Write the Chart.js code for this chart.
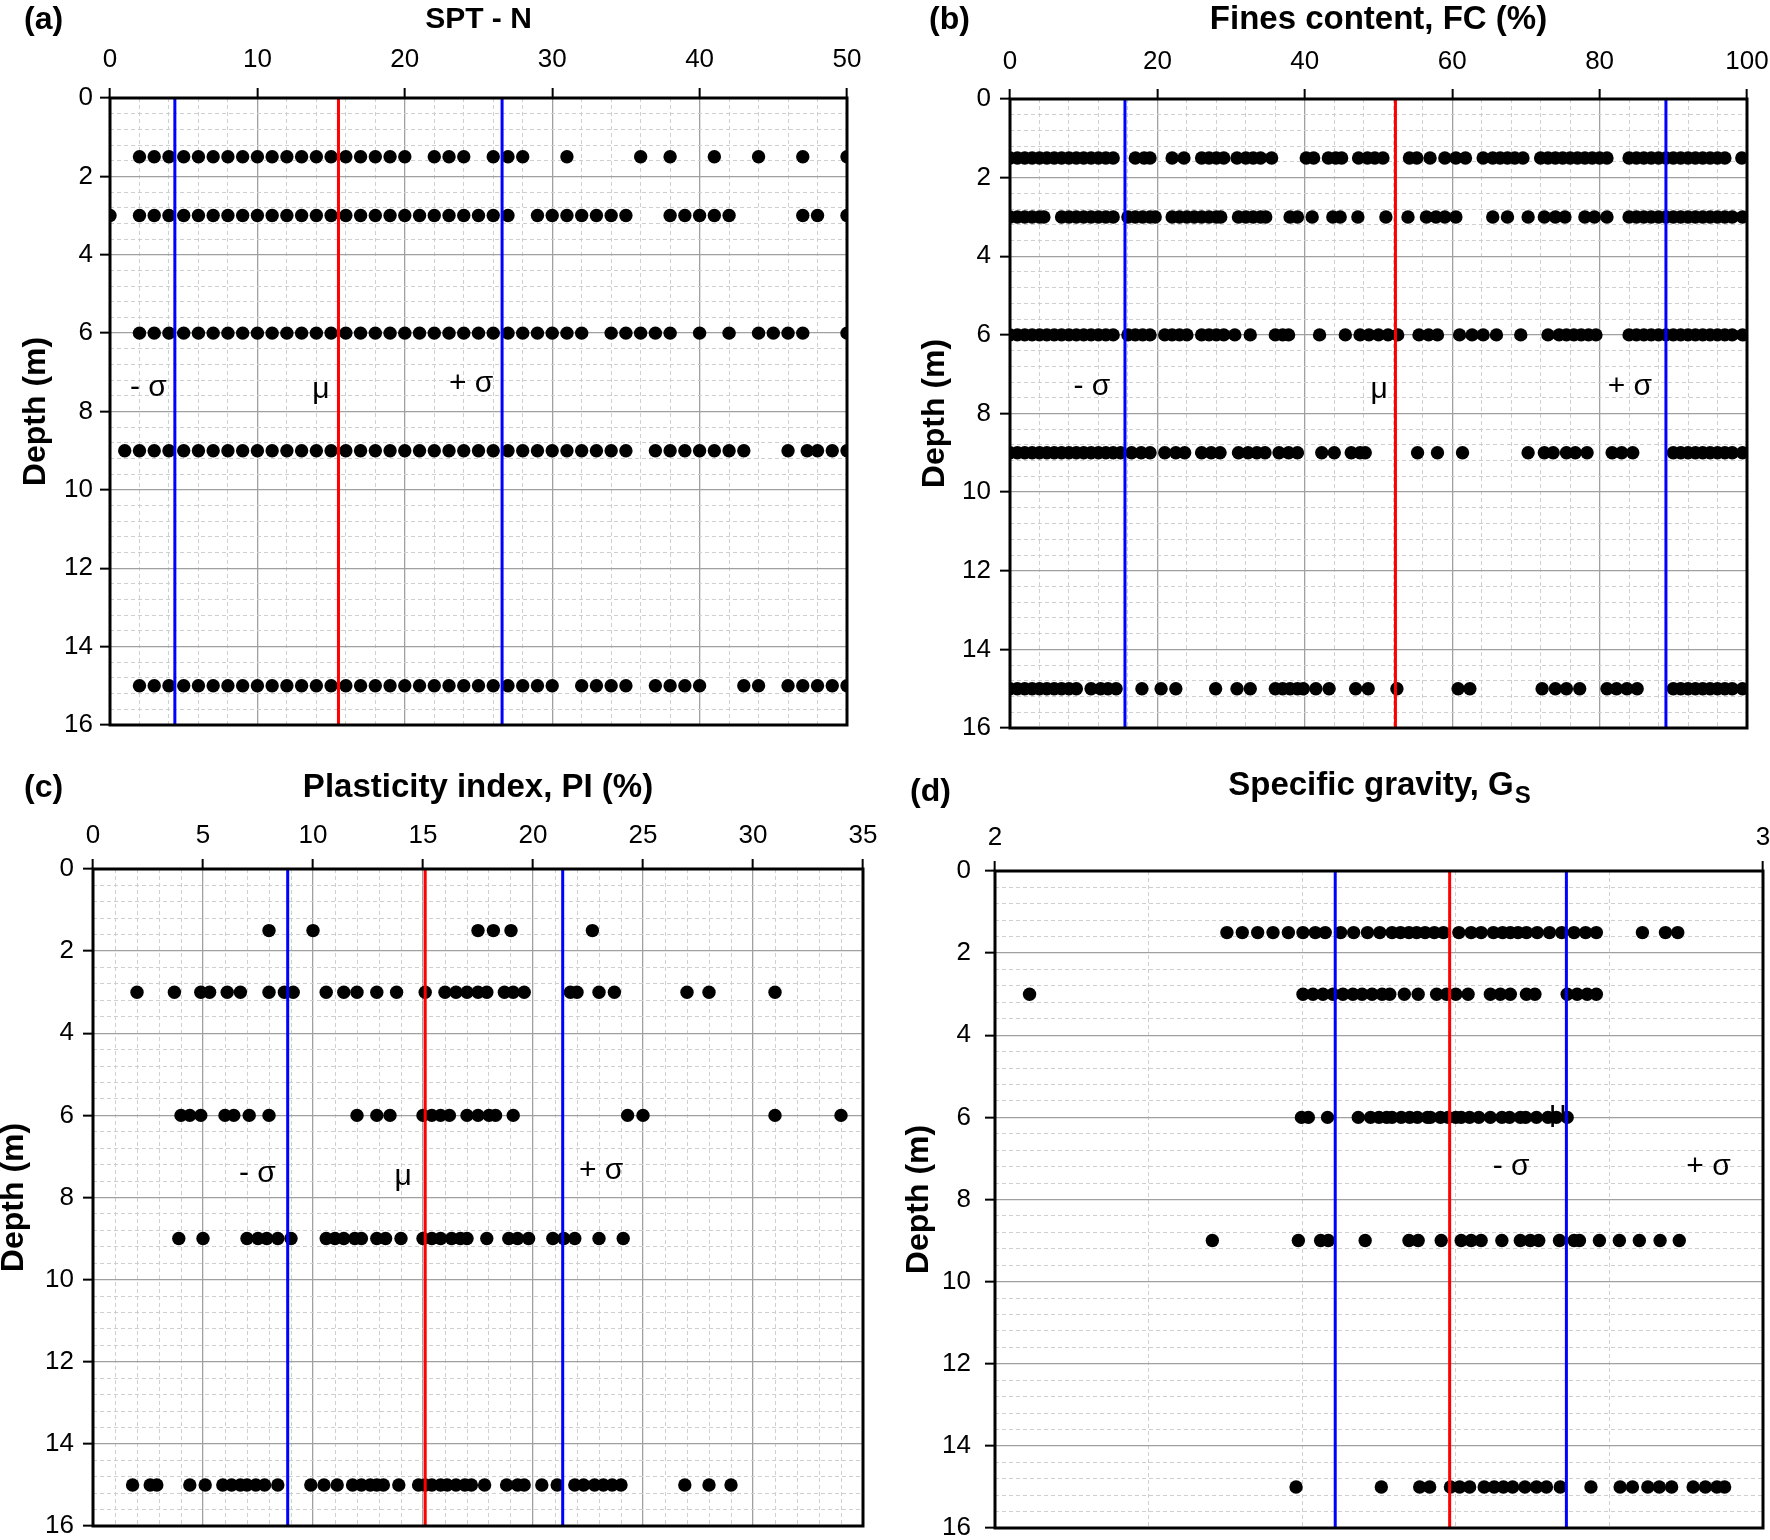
<!DOCTYPE html>
<html>
<head>
<meta charset="utf-8">
<script src="https://cdn.jsdelivr.net/npm/chart.js@4.4.1/dist/chart.umd.min.js"></script>
<style>
  html, body { margin: 0; padding: 0; background: #fff; }
  body { width: 1770px; height: 1540px; position: relative; overflow: hidden; }
  .panel { position: absolute; width: 885px; height: 770px; }
</style>
</head>
<body>
<div class="panel" style="left:0;top:0"><canvas id="chartA" width="885" height="770"></canvas></div>
<div class="panel" style="left:885px;top:0"><canvas id="chartB" width="885" height="770"></canvas></div>
<div class="panel" style="left:0;top:770px"><canvas id="chartC" width="885" height="770"></canvas></div>
<div class="panel" style="left:885px;top:770px"><canvas id="chartD" width="885" height="770"></canvas></div>
<script>
// sampling depths (m), one row of dots per depth
const depths = [1.5, 3, 6, 9, 15]

// (a) SPT - N
const sptAt1_5 = [2, 3, 4, 5, 6, 7, 8, 9, 10, 11, 12, 13, 14, 15, 16, 17, 18, 19, 20, 22, 23, 24, 26, 27, 28, 31, 36, 38, 41, 44, 47, 50]
const sptAt3 = [0, 2, 3, 4, 5, 6, 7, 8, 9, 10, 11, 12, 13, 14, 15, 16, 17, 18, 19, 20, 21, 22, 23, 24, 25, 26, 27, 29, 30, 31, 32, 33, 34, 35, 38, 39, 40, 41, 42, 47, 48, 50]
const sptAt6 = [2, 3, 4, 5, 6, 7, 8, 9, 10, 11, 12, 13, 14, 15, 16, 17, 18, 19, 20, 21, 22, 23, 24, 25, 26, 27, 28, 29, 30, 31, 32, 34, 35, 36, 37, 38, 40, 42, 44, 45, 46, 47, 50]
const sptAt9 = [1, 2, 3, 4, 5, 6, 7, 8, 9, 10, 11, 12, 13, 14, 15, 16, 17, 18, 19, 20, 21, 22, 23, 24, 25, 26, 27, 28, 29, 30, 31, 32, 33, 34, 35, 37, 38, 39, 40, 41, 42, 43, 46, 47.3, 48, 49, 50]
const sptAt15 = [2, 3, 4, 5, 6, 7, 8, 9, 10, 11, 12, 13, 14, 15, 16, 17, 18, 19, 20, 21, 22, 23, 24, 25, 26, 27, 28, 29, 30, 32, 33, 34, 35, 37, 38, 39, 40, 43, 44, 46, 47, 48, 49, 50]
const sptStats = [4.4, 15.5, 26.6] // -sigma, mu, +sigma

// (b) Fines content, FC (%)
const fcAt1_5 = [0, 1, 2, 3, 4, 5, 6, 7, 8, 9, 10, 11, 12, 13, 14, 17, 18.2, 19, 22, 23.6, 26, 27, 28, 29, 30.8, 32, 33, 34, 35.5, 40.2, 41.2, 43.2, 44.2, 45, 47.3, 48.5, 49.5, 50.6, 54.2, 55.2, 57, 59, 60.5, 61.8, 64.2, 65.5, 66.5, 67.5, 68.5, 69.6, 72, 73, 74, 75, 76, 77, 78, 79, 80, 81, 84, 85, 86, 87, 88, 89, 90, 91, 92, 93, 94, 95, 96, 97, 99.3]
const fcAt3 = [0, 1, 2, 3, 4, 4.6, 7, 8, 9, 10, 11, 12, 13, 14, 16, 17, 18, 19, 19.7, 22, 23, 24, 25, 26, 27, 28, 28.6, 31, 32, 33, 34, 34.7, 38, 39, 41, 43.8, 44.8, 47.2, 51, 54, 56.5, 57.8, 59, 60.5, 65.5, 67.5, 70.3, 72.5, 74, 75.3, 78, 79.3, 81, 84, 85, 86, 87, 88, 89, 90, 91, 92, 93, 94, 95, 96, 97, 98, 99.4]
const fcAt6 = [0, 1, 2, 3, 4, 5, 6, 7, 8, 9, 10, 11, 12, 13, 14, 16, 17, 18, 19, 21, 22, 23, 24, 26, 27, 28, 29, 30.5, 32.6, 36, 37, 37.8, 42, 45.5, 47.5, 48.7, 50, 51.3, 52.6, 55.5, 56.8, 58, 61, 62.7, 64.2, 66, 69.3, 73, 74.5, 75.5, 76.5, 77.5, 78.5, 79.5, 84, 85, 86, 87, 88, 89, 90, 91, 92, 93, 94, 95, 96, 97, 98, 99.4]
const fcAt9 = [0, 1, 2, 3, 4, 5, 6, 7, 8, 9, 10, 11, 12, 13, 14, 15, 16.5, 17.8, 19, 21, 22.5, 23.7, 26, 27.3, 28.5, 31, 32.3, 33.5, 34.6, 36.5, 37.8, 39, 42.3, 44, 46.3, 47.5, 48.2, 55.3, 58, 61.4, 70.3, 72.5, 73.7, 75.5, 76.7, 78.3, 81.7, 83, 84.5, 90, 91, 92, 93, 94, 95, 96, 97, 98, 99.4]
const fcAt15 = [0, 1, 2, 3, 4, 5, 6, 7, 8, 9, 11, 12.3, 13.3, 14.4, 17.9, 20.5, 22.5, 27.9, 30.8, 32.6, 36, 37, 38, 39, 39.8, 41.5, 43.3, 46.9, 48.6, 52.5, 60.8, 62.4, 72.2, 74, 75.5, 77.3, 81, 82.3, 83.7, 85.1, 90, 91, 92, 93, 94, 95, 96, 97, 98, 99.4]
const fcStats = [15.6, 52.3, 89.0]

// (c) Plasticity index, PI (%)
const piAt1_5 = [8, 10, 17.5, 18.2, 19, 22.7]
const piAt3 = [2, 3.7, 4.9, 5.3, 6.1, 6.7, 8, 8.7, 9.1, 10.6, 11.4, 12, 12.9, 13.8, 15.1, 16, 16.5, 17, 17.5, 17.9, 18.7, 19.1, 19.6, 21.7, 22, 23, 23.7, 27, 28, 31]
const piAt6 = [4, 4.4, 4.9, 6, 6.4, 7.1, 8, 12, 12.9, 13.5, 15, 15.4, 15.8, 16.2, 17, 17.5, 18, 18.3, 19.1, 24.3, 25, 31, 34]
const piAt9 = [3.9, 5, 7, 7.5, 7.9, 8.4, 9, 10.6, 11, 11.4, 11.9, 12.2, 12.9, 13.3, 14, 15, 15.4, 15.8, 16.3, 16.7, 17, 17.9, 18.9, 19.3, 19.8, 20.9, 21.4, 21.9, 23, 24.1]
const piAt15 = [1.8, 2.6, 2.9, 4.4, 5.1, 5.9, 6.3, 6.7, 7, 7.4, 7.8, 8.4, 9.9, 10.5, 11.1, 11.8, 12.2, 12.6, 12.9, 13.2, 13.9, 14.8, 15.1, 15.4, 15.8, 16.1, 16.5, 16.9, 17.2, 17.8, 18.8, 19.3, 19.6, 20.4, 21.1, 21.9, 22.3, 22.8, 23.2, 23.6, 24, 26.9, 28, 29]
const piStats = [8.85, 15.1, 21.35]

// (d) Specific gravity, Gs
const gsAt1_5 = [2.302, 2.322, 2.342, 2.362, 2.382, 2.401, 2.417, 2.43, 2.45, 2.467, 2.485, 2.501, 2.517, 2.528, 2.539, 2.549, 2.56, 2.572, 2.584, 2.604, 2.62, 2.633, 2.649, 2.661, 2.671, 2.681, 2.692, 2.706, 2.722, 2.738, 2.754, 2.769, 2.783, 2.843, 2.873, 2.889]
const gsAt3 = [2.045, 2.401, 2.414, 2.427, 2.44, 2.453, 2.466, 2.478, 2.491, 2.504, 2.514, 2.533, 2.551, 2.575, 2.588, 2.6, 2.616, 2.645, 2.658, 2.671, 2.692, 2.703, 2.745, 2.758, 2.771, 2.783]
const gsAt6 = [2.399, 2.408, 2.433, 2.473, 2.489, 2.5, 2.51, 2.517, 2.529, 2.54, 2.55, 2.563, 2.567, 2.58, 2.59, 2.6, 2.607, 2.618, 2.63, 2.645, 2.66, 2.67, 2.684, 2.691, 2.705, 2.72, 2.731, 2.745]
const gsAt9 = [2.283, 2.395, 2.424, 2.434, 2.482, 2.539, 2.551, 2.581, 2.607, 2.62, 2.633, 2.66, 2.684, 2.697, 2.708, 2.735, 2.754, 2.761, 2.787, 2.813, 2.839, 2.866, 2.891]
const gsAt15 = [2.392, 2.503, 2.553, 2.566, 2.593, 2.605, 2.618, 2.637, 2.65, 2.662, 2.674, 2.69, 2.705, 2.718, 2.736, 2.776, 2.814, 2.83, 2.85, 2.865, 2.881, 2.909, 2.925, 2.94, 2.95]
const gsStats = [2.443, 2.592, 2.744]

const FONT = "'Liberation Sans', Arial, Helvetica, sans-serif"
Chart.defaults.font.family = FONT
Chart.defaults.color = '#000'

function rowsToPoints(rows) {
  const pts = []
  rows.forEach((vals, i) => vals.forEach(v => pts.push({ x: v, y: depths[i] })))
  return pts
}

function statLines(stats) {
  return stats.map((v, i) => ({
    data: [{ x: v, y: 0 }, { x: v, y: 16 }],
    showLine: true,
    borderColor: i === 1 ? '#ff0000' : '#0000ff',
    borderWidth: 3,
    pointRadius: 0,
    order: 0
  }))
}

// black frame round the plot area
const framePlugin = {
  id: 'frame',
  afterDatasetsDraw(chart) {
    const { ctx, chartArea: a } = chart
    ctx.save()
    ctx.strokeStyle = '#000'
    ctx.lineWidth = 3
    ctx.strokeRect(a.left, a.top, a.right - a.left, a.bottom - a.top)
    ctx.restore()
  }
}

// panel letter, title (with optional subscript) and the sigma / mu labels
const notesPlugin = {
  id: 'notes',
  afterDraw(chart, args, o) {
    const { ctx, chartArea: a, scales: { x, y } } = chart
    ctx.save()
    ctx.fillStyle = '#000'
    ctx.textBaseline = 'middle'
    ctx.font = 'bold 32px ' + FONT
    ctx.textAlign = 'left'
    ctx.fillText(o.letter, o.letterX, o.letterY)

    const cx = (a.left + a.right) / 2
    const size = o.titleSize || 33
    ctx.font = 'bold ' + size + 'px ' + FONT
    const w1 = ctx.measureText(o.title).width
    let w2 = 0
    if (o.sub) {
      ctx.font = 'bold 24px ' + FONT
      w2 = ctx.measureText(o.sub).width
    }
    const x0 = cx - (w1 + w2) / 2
    ctx.font = 'bold ' + size + 'px ' + FONT
    ctx.fillText(o.title, x0, o.titleY)
    if (o.sub) {
      ctx.font = 'bold 24px ' + FONT
      ctx.fillText(o.sub, x0 + w1 + 1, o.titleY + 10)
    }

    ctx.font = '30px ' + FONT
    ctx.textAlign = 'center'
    o.marks.forEach(m => ctx.fillText(m.text, x.getPixelForValue(m.x), y.getPixelForValue(m.y)))
    ctx.restore()
  }
}

function makePanel(id, p) {
  const W = 885, H = 770
  const isMajor = (v, step) => Math.abs(v / step - Math.round(v / step)) < 1e-6
  new Chart(document.getElementById(id), {
    type: 'scatter',
    data: {
      datasets: [
        {
          data: rowsToPoints(p.rows),
          backgroundColor: '#000',
          borderWidth: 0,
          pointRadius: 6.7,
          clip: 0,
          order: 1
        },
        ...statLines(p.stats)
      ]
    },
    options: {
      responsive: false,
      animation: false,
      devicePixelRatio: 1,
      events: [],
      layout: { padding: { left: 0, top: 0, right: W - p.area.r, bottom: H - p.area.b } },
      plugins: {
        legend: { display: false },
        tooltip: { enabled: false },
        notes: p.notes
      },
      scales: {
        x: {
          type: 'linear', position: 'top', min: p.xMin, max: p.xMax,
          ticks: { stepSize: p.xStep, font: { size: 26 }, color: '#000', padding: p.xTickPad, autoSkip: false, maxRotation: 0 },
          grid: { color: p.xMajorGrid ? '#a0a0a0' : 'rgba(0,0,0,0)', lineWidth: 1.3, tickColor: '#000', tickLength: 10, tickWidth: 2 },
          border: { display: false },
          afterFit(s) { s.height = p.area.t; s.paddingLeft = 0; s.paddingRight = 0 }
        },
        xMinor: {
          type: 'linear', position: 'top', min: p.xMin, max: p.xMax,
          ticks: { display: false, stepSize: p.xMinor },
          grid: {
            drawTicks: false, lineWidth: 1,
            color: c => (p.xMajorGrid && isMajor(c.tick.value - p.xMin, p.xStep)) ? 'rgba(0,0,0,0)' : '#cfcfcf'
          },
          border: { display: false, dash: [4, 3] },
          afterFit(s) { s.height = 0 }
        },
        y: {
          type: 'linear', position: 'left', reverse: true, min: 0, max: 16,
          ticks: { stepSize: 2, font: { size: 26 }, color: '#000', padding: p.yTickPad },
          grid: { color: '#a0a0a0', lineWidth: 1.3, tickColor: '#000', tickLength: 10, tickWidth: 2 },
          border: { display: false },
          title: { display: true, text: 'Depth (m)', color: '#000', font: { size: 32, weight: 'bold' }, padding: { top: p.yTitlePad, bottom: 0 } },
          afterFit(s) { s.width = p.area.l; s.paddingTop = 0; s.paddingBottom = 0 }
        },
        yMinor: {
          type: 'linear', position: 'left', reverse: true, min: 0, max: 16,
          ticks: { display: false, stepSize: 0.4 },
          grid: { drawTicks: false, lineWidth: 1, color: c => isMajor(c.tick.value, 2) ? 'rgba(0,0,0,0)' : '#cfcfcf' },
          border: { display: false, dash: [4, 3] },
          afterFit(s) { s.width = 0 }
        }
      }
    },
    plugins: [framePlugin, notesPlugin]
  })
}

makePanel('chartA', {
  rows: [sptAt1_5, sptAt3, sptAt6, sptAt9, sptAt15], stats: sptStats,
  area: { l: 110, t: 98, r: 847, b: 725 },
  xMin: 0, xMax: 50, xStep: 10, xMinor: 2, xMajorGrid: true, xTickPad: 13, yTickPad: 7, yTitlePad: 17,
  notes: {
    letter: '(a)', letterX: 24, letterY: 20, title: 'SPT - N', titleSize: 30, titleY: 20,
    marks: [{ text: '- σ', x: 2.6, y: 7.4 }, { text: 'μ', x: 14.3, y: 7.45 }, { text: '+ σ', x: 24.5, y: 7.3 }]
  }
})

makePanel('chartB', {
  rows: [fcAt1_5, fcAt3, fcAt6, fcAt9, fcAt15], stats: fcStats,
  area: { l: 125, t: 99, r: 862, b: 728 },
  xMin: 0, xMax: 100, xStep: 20, xMinor: 4, xMajorGrid: true, xTickPad: 12, yTickPad: 9, yTitlePad: 31,
  notes: {
    letter: '(b)', letterX: 44, letterY: 20, title: 'Fines content, FC (%)', titleY: 20,
    marks: [{ text: '- σ', x: 11.1, y: 7.33 }, { text: 'μ', x: 50.1, y: 7.4 }, { text: '+ σ', x: 84.1, y: 7.33 }]
  }
})

makePanel('chartC', {
  rows: [piAt1_5, piAt3, piAt6, piAt9, piAt15], stats: piStats,
  area: { l: 93, t: 99, r: 863, b: 756 },
  xMin: 0, xMax: 35, xStep: 5, xMinor: 1, xMajorGrid: true, xTickPad: 8, yTickPad: 9, yTitlePad: -5,
  notes: {
    letter: '(c)', letterX: 24, letterY: 18, title: 'Plasticity index, PI (%)', titleY: 18,
    marks: [{ text: '- σ', x: 7.47, y: 7.43 }, { text: 'μ', x: 14.1, y: 7.5 }, { text: '+ σ', x: 23.1, y: 7.35 }]
  }
})

makePanel('chartD', {
  rows: [gsAt1_5, gsAt3, gsAt6, gsAt9, gsAt15], stats: gsStats,
  area: { l: 110, t: 101, r: 878, b: 758 },
  xMin: 2, xMax: 3, xStep: 1, xMinor: 0.2, xMajorGrid: false, xTickPad: 8, yTickPad: 14, yTitlePad: 15,
  notes: {
    letter: '(d)', letterX: 25, letterY: 22, title: 'Specific gravity, G', sub: 'S', titleY: 16,
    marks: [{ text: 'μ', x: 2.733, y: 5.89 }, { text: '- σ', x: 2.672, y: 7.2 }, { text: '+ σ', x: 2.929, y: 7.2 }]
  }
})
</script>
</body>
</html>
